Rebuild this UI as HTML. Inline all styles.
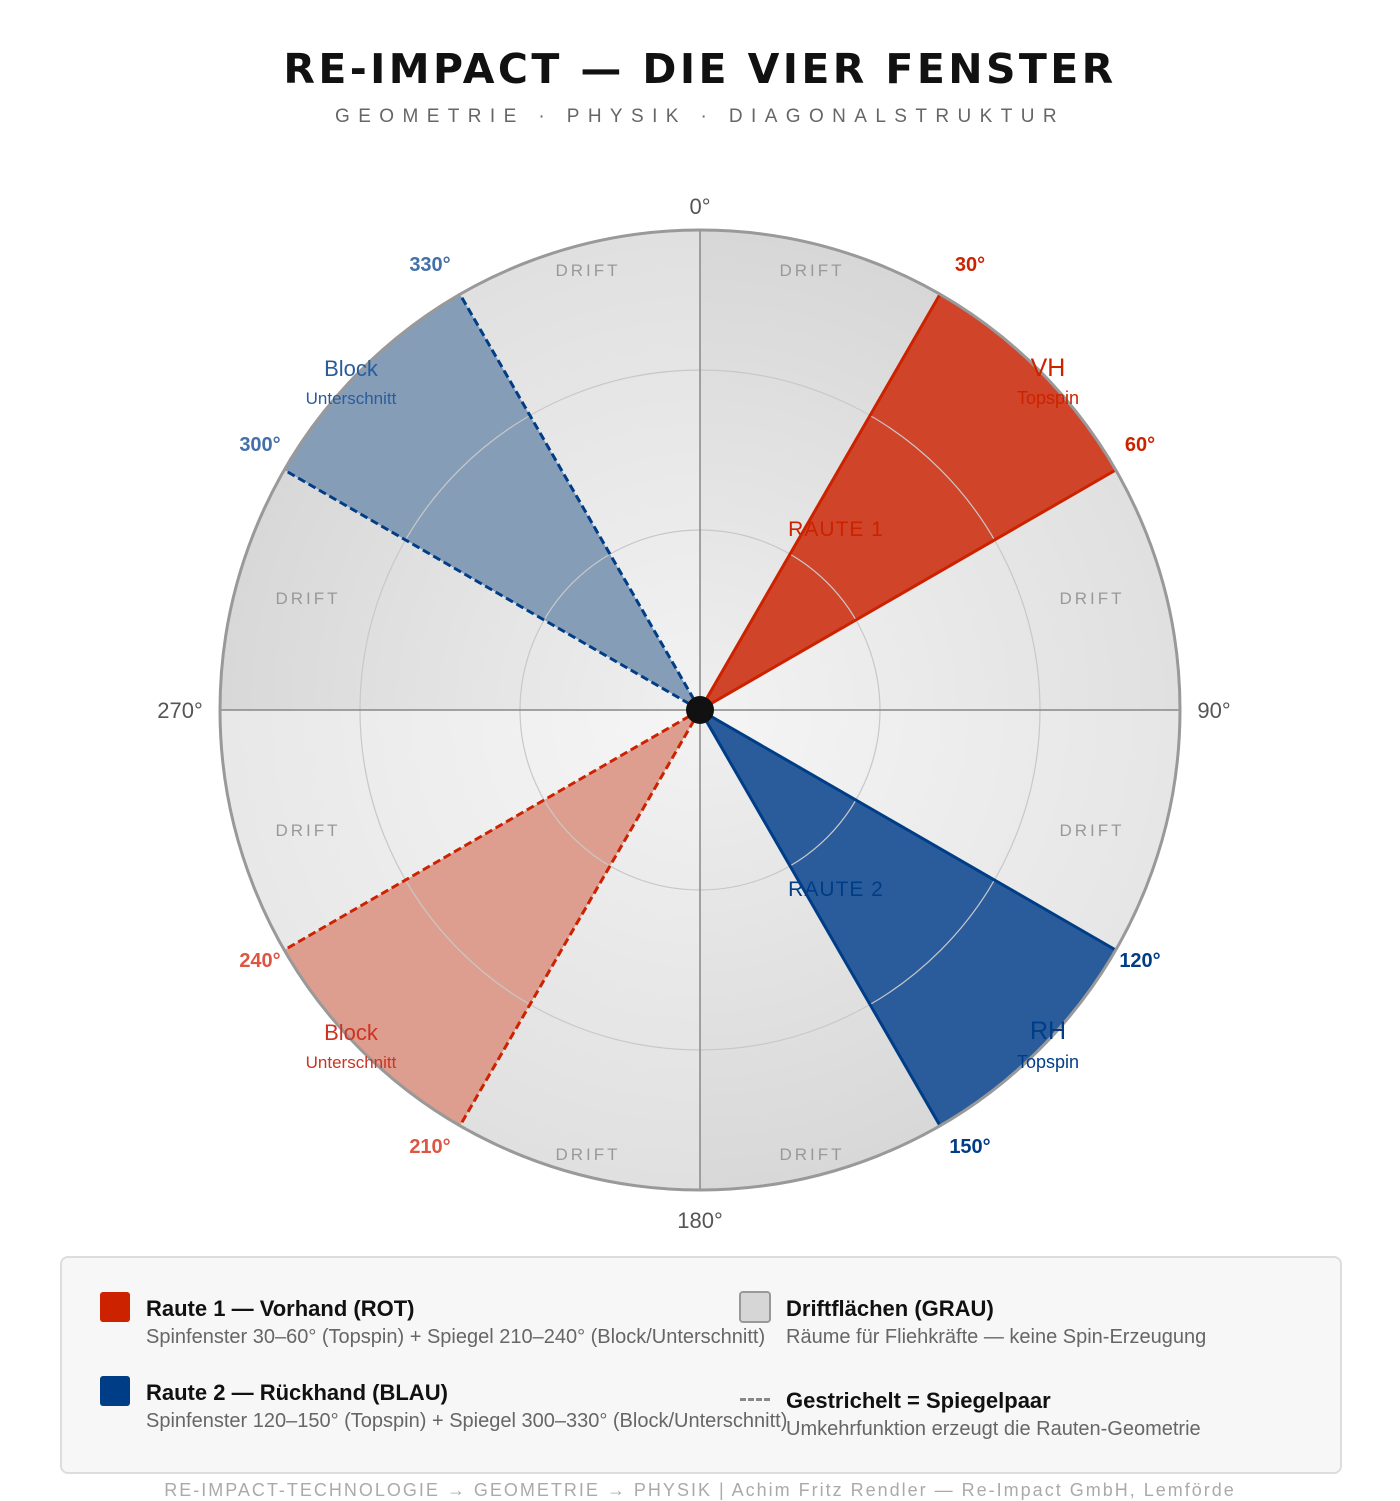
<!DOCTYPE html>
<html><head><meta charset="utf-8">
<style>
body{margin:0;background:#fff;width:1400px;height:1500px;overflow:hidden;font-family:"Liberation Sans",sans-serif}
.t{position:absolute;left:0;width:1400px;text-align:center}
</style></head><body>
<div class="t" style="top:45px;font-family:'DejaVu Sans',sans-serif;font-weight:bold;font-size:41px;letter-spacing:3.4px;color:#111">RE-IMPACT — DIE VIER FENSTER</div>
<div class="t" style="top:106px;font-size:19px;letter-spacing:8.4px;color:#666">GEOMETRIE · PHYSIK · DIAGONALSTRUKTUR</div>
<svg id="chart" width="1400" height="1250" style="position:absolute;left:0;top:0">
<defs><radialGradient id="glow" cx="700" cy="710" r="480" gradientUnits="userSpaceOnUse"><stop offset="0" stop-color="#fff" stop-opacity="0.6"/><stop offset="1" stop-color="#fff" stop-opacity="0"/></radialGradient></defs>
<g id="g"></g>
</svg>
<div style="position:absolute;left:60px;top:1256px;width:1278px;height:214px;border:2px solid #ddd;border-radius:8px;background:#f7f7f7"></div>
<div style="position:absolute;left:100px;top:1292px;width:30px;height:30px;border-radius:3px;background:#cc2200"></div>
<div style="position:absolute;left:146px;top:1296px;font-size:22px;font-weight:bold;color:#111">Raute 1 — Vorhand (ROT)</div>
<div style="position:absolute;left:146px;top:1326px;font-size:20px;color:#666">Spinfenster 30–60° (Topspin) + Spiegel 210–240° (Block/Unterschnitt)</div>
<div style="position:absolute;left:100px;top:1376px;width:30px;height:30px;border-radius:3px;background:#003d87"></div>
<div style="position:absolute;left:146px;top:1380px;font-size:22px;font-weight:bold;color:#111">Raute 2 — Rückhand (BLAU)</div>
<div style="position:absolute;left:146px;top:1410px;font-size:20px;color:#666;white-space:nowrap">Spinfenster 120–150° (Topspin) + Spiegel 300–330° (Block/Unterschnitt)</div>
<div style="position:absolute;left:739px;top:1291px;width:28px;height:28px;border-radius:4px;background:#d6d6d6;border:2px solid #999"></div>
<div style="position:absolute;left:786px;top:1296px;font-size:22px;font-weight:bold;color:#111">Driftflächen (GRAU)</div>
<div style="position:absolute;left:786px;top:1326px;font-size:20px;color:#666">Räume für Fliehkräfte — keine Spin-Erzeugung</div>
<div style="position:absolute;left:740px;top:1398px;width:30px;border-top:3px dashed #888"></div>
<div style="position:absolute;left:786px;top:1388px;font-size:22px;font-weight:bold;color:#111">Gestrichelt = Spiegelpaar</div>
<div style="position:absolute;left:786px;top:1418px;font-size:20px;color:#666">Umkehrfunktion erzeugt die Rauten-Geometrie</div>
<div class="t" style="top:1480px;font-size:18px;letter-spacing:2.0px;color:#aaa">RE-IMPACT-TECHNOLOGIE → GEOMETRIE → PHYSIK | Achim Fritz Rendler — Re-Impact GmbH, Lemförde</div>
<script>
const sectorStarts=[0,30,60,90,120,150,180,210,240,270,300,330];
const sectorFills=['#d7d7d7','#d0442a','#e0e0e0','#e6e6e6','#2a5c9c','#d8d8d8','#e0e0e0','#dd9e90','#e8e8e8','#d8d8d8','#869db8','#e0e0e0'];
const sectorStrokes=[null,'#cc2200',null,null,'#003d87',null,null,'#cc2200',null,null,'#003d87',null];
const sectorDashed=[0,0,0,0,0,0,0,1,0,0,1,0];
const ringRadii=[180,340];
const CX=700,CY=710,R=480;
const NS='http://www.w3.org/2000/svg';
const g=document.getElementById('g');
function pt(a,r){const t=a*Math.PI/180;return [CX+r*Math.sin(t),CY-r*Math.cos(t)];}
function mk(tag,attrs){const e=document.createElementNS(NS,tag);for(const k in attrs)e.setAttribute(k,attrs[k]);g.appendChild(e);return e;}
function sector(s,i){
 const a=pt(s,R),b=pt(s+30,R);
 const p=mk('path',{d:`M${CX},${CY}L${a[0]},${a[1]}A${R},${R} 0 0 1 ${b[0]},${b[1]}Z`,fill:sectorFills[i]});
 
 
}
sectorStarts.forEach((s,i)=>{if(!sectorStrokes[i])sector(s,i);});
const gl=mk('circle',{cx:CX,cy:CY,r:R,fill:'url(#glow)'});


sectorStarts.forEach((s,i)=>{if(sectorStrokes[i])sector(s,i);});
ringRadii.forEach(r=>{const c=mk('circle',{cx:CX,cy:CY,r:r,fill:'none',stroke:'#c8c8c8','stroke-width':1.2});
 
 });
[0,90].forEach(a=>{const p1=pt(a,R),p2=pt(a+180,R);const l=mk('line',{x1:p1[0],y1:p1[1],x2:p2[0],y2:p2[1],stroke:'#888','stroke-width':1.5});
 
 });
sectorStarts.forEach((s,i)=>{
 if(!sectorStrokes[i])return;
 [s,s+30].forEach(a=>{const p=pt(a,R);const l=mk('line',{x1:CX,y1:CY,x2:p[0],y2:p[1],stroke:sectorStrokes[i],'stroke-width':3});
  if(sectorDashed[i])l.setAttribute('stroke-dasharray','8 4');
  
  });
});
const oc=mk('circle',{cx:CX,cy:CY,r:R,fill:'none',stroke:'#999','stroke-width':3});


const dot=mk('circle',{cx:CX,cy:CY,r:14,fill:'#111'});


function tx(x,y,s,o){const e=mk('text',Object.assign({x:x,y:y,'text-anchor':'middle','font-family':'Liberation Sans, sans-serif'},o));e.textContent=s;return e;}
const labels=[
[700,214,'0°',{fill:'#555','font-size':22}],[1214,718,'90°',{fill:'#555','font-size':22}],[700,1228,'180°',{fill:'#555','font-size':22}],[180,718,'270°',{fill:'#555','font-size':22}],
[970,271,'30°',{fill:'#cc2200','font-size':20,'font-weight':'bold'}],[1140,451,'60°',{fill:'#cc2200','font-size':20,'font-weight':'bold'}],
[1140,967,'120°',{fill:'#003d87','font-size':20,'font-weight':'bold'}],[970,1153,'150°',{fill:'#003d87','font-size':20,'font-weight':'bold'}],
[430,1153,'210°',{fill:'#dd5544','font-size':20,'font-weight':'bold'}],[260,967,'240°',{fill:'#dd5544','font-size':20,'font-weight':'bold'}],
[260,451,'300°',{fill:'#4470aa','font-size':20,'font-weight':'bold'}],[430,271,'330°',{fill:'#4470aa','font-size':20,'font-weight':'bold'}],
[1048,376,'VH',{fill:'#cc2200','font-size':25}],[1048,404,'Topspin',{fill:'#cc2200','font-size':18}],
[1048,1039,'RH',{fill:'#003d87','font-size':25}],[1048,1068,'Topspin',{fill:'#003d87','font-size':18}],
[351,376,'Block',{fill:'#2a5c9c','font-size':22}],[351,404,'Unterschnitt',{fill:'#2a5c9c','font-size':17}],
[351,1040,'Block',{fill:'#cc3322','font-size':22}],[351,1068,'Unterschnitt',{fill:'#cc3322','font-size':17}],
[836,536,'RAUTE 1',{fill:'#cc2200','font-size':21,'letter-spacing':1}],[836,896,'RAUTE 2',{fill:'#003d87','font-size':21,'letter-spacing':1}]];
labels.forEach(l=>{const e=tx(l[0],l[1],l[2],l[3]);});
[[588,276],[812,276],[1092,604],[1092,836],[812,1160],[588,1160],[308,836],[308,604]].forEach(p=>{
 const e=tx(p[0],p[1],'DRIFT',{fill:'#999','font-size':17,'letter-spacing':3});
 
 });
</script>
</body></html>
